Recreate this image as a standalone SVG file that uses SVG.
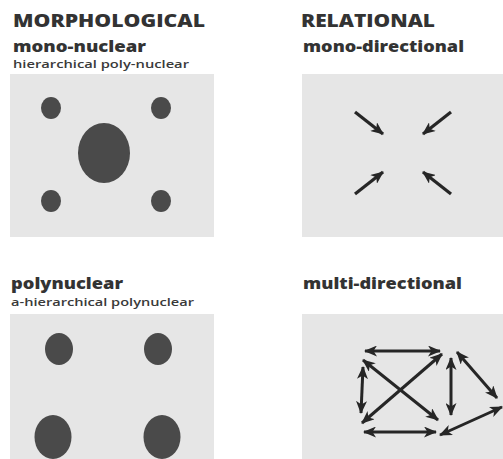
<svg xmlns="http://www.w3.org/2000/svg" width="503" height="459" viewBox="0 0 503 459">
<style>
.h{font-family:"Open Sans","DejaVu Sans",sans-serif;font-weight:800;fill:#333;}
.s{font-family:"Open Sans","DejaVu Sans",sans-serif;font-weight:600;fill:#3a3a3a;}
.panel{fill:#e6e6e6;}
.dot{fill:#4a4a4a;}
.arr{stroke:#262626;stroke-width:3.2;fill:none;marker-end:url(#ah);}
.darr{stroke:#262626;stroke-width:3;fill:none;marker-end:url(#ah);marker-start:url(#ahs);}
</style>
<defs>
<marker id="ah" markerUnits="userSpaceOnUse" markerWidth="13" markerHeight="11" refX="12" refY="5.5" orient="auto">
<path d="M0,0 L13,5.5 L0,11 L3.5,5.5 z" fill="#262626"/>
</marker>
<marker id="ahs" markerUnits="userSpaceOnUse" markerWidth="13" markerHeight="11" refX="12" refY="5.5" orient="auto-start-reverse">
<path d="M0,0 L13,5.5 L0,11 L3.5,5.5 z" fill="#262626"/>
</marker>
</defs>
<rect width="503" height="459" fill="#fff"/>
<g id="titles">
<text class="h" x="13" y="27" font-size="17.5" textLength="192" lengthAdjust="spacingAndGlyphs">MORPHOLOGICAL</text>
<text class="h" x="301" y="27" font-size="17.5" textLength="134" lengthAdjust="spacingAndGlyphs">RELATIONAL</text>
</g>
<g id="mono-nuclear">
<text class="h" x="13" y="51.5" font-size="15" textLength="133" lengthAdjust="spacingAndGlyphs">mono-nuclear</text>
<text class="s" x="13" y="68" font-size="11.5" textLength="176" lengthAdjust="spacingAndGlyphs">hierarchical poly-nuclear</text>
<rect class="panel" x="10" y="74" width="204" height="163"/>
<ellipse class="dot" cx="51" cy="108" rx="10" ry="11"/>
<ellipse class="dot" cx="161" cy="108" rx="10" ry="11"/>
<ellipse class="dot" cx="104" cy="153" rx="26" ry="30"/>
<ellipse class="dot" cx="51" cy="201" rx="10" ry="11"/>
<ellipse class="dot" cx="161" cy="201" rx="10" ry="11"/>
</g>
<g id="mono-directional">
<text class="h" x="303" y="51.5" font-size="15" textLength="161" lengthAdjust="spacingAndGlyphs">mono-directional</text>
<rect class="panel" x="302" y="74" width="201" height="163"/>
</g>
<g id="polynuclear">
<text class="h" x="11" y="288.5" font-size="15" textLength="112" lengthAdjust="spacingAndGlyphs">polynuclear</text>
<text class="s" x="11" y="305.5" font-size="11.5" textLength="183" lengthAdjust="spacingAndGlyphs">a-hierarchical polynuclear</text>
<rect class="panel" x="10" y="314" width="204" height="145"/>
<ellipse class="dot" cx="59" cy="349" rx="14" ry="16"/>
<ellipse class="dot" cx="158" cy="349" rx="14" ry="16"/>
<ellipse class="dot" cx="53" cy="437" rx="18.5" ry="22"/>
<ellipse class="dot" cx="162" cy="437" rx="18.5" ry="22"/>
</g>
<g id="multi-directional">
<text class="h" x="303" y="288.5" font-size="15" textLength="159" lengthAdjust="spacingAndGlyphs">multi-directional</text>
<rect class="panel" x="302" y="314" width="201" height="145"/>
</g>
<g id="connectors">
<line class="arr" x1="355" y1="112" x2="383" y2="134"/>
<line class="arr" x1="451" y1="112" x2="423" y2="134"/>
<line class="arr" x1="355" y1="194" x2="383" y2="172"/>
<line class="arr" x1="451" y1="194" x2="423" y2="172"/>
<line class="darr" x1="365" y1="351" x2="440" y2="351"/>
<line class="darr" x1="363" y1="367" x2="361" y2="413"/>
<line class="darr" x1="363" y1="360" x2="438" y2="420"/>
<line class="darr" x1="442" y1="354" x2="362" y2="423"/>
<line class="darr" x1="451" y1="358" x2="451" y2="415"/>
<line class="darr" x1="457" y1="352" x2="497" y2="398"/>
<line class="darr" x1="364" y1="432" x2="436" y2="432"/>
<line class="darr" x1="440" y1="435" x2="502" y2="407"/>
</g>
</svg>
